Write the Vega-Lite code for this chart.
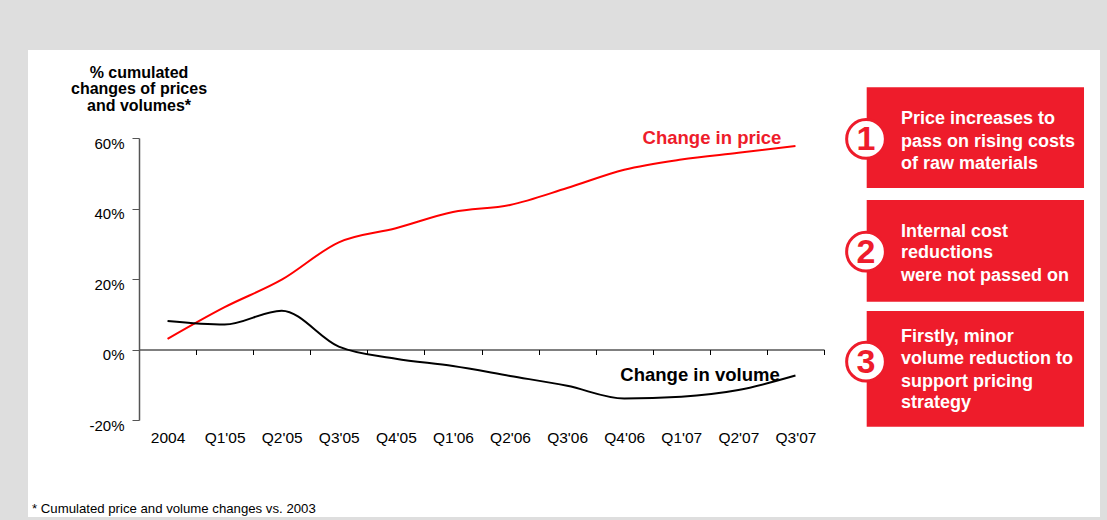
{
  "$schema": "https://vega.github.io/schema/vega-lite/v6.json",
  "autosize": {"type": "none"},
  "padding": {"left": 139, "top": 138, "right": 283, "bottom": 100},
  "width": 685,
  "height": 282,
  "background": "#dedede",
  "config": {"font": "Liberation Sans", "view": {"stroke": null}},
  "datasets": {
    "series": [
      {"q": "2004", "s": "price", "value": 3.0},
      {"q": "Q1'05", "s": "price", "value": 12.0},
      {"q": "Q2'05", "s": "price", "value": 19.8},
      {"q": "Q3'05", "s": "price", "value": 30.4},
      {"q": "Q4'05", "s": "price", "value": 34.4},
      {"q": "Q1'06", "s": "price", "value": 39.0},
      {"q": "Q2'06", "s": "price", "value": 41.0},
      {"q": "Q3'06", "s": "price", "value": 45.8},
      {"q": "Q4'06", "s": "price", "value": 51.0},
      {"q": "Q1'07", "s": "price", "value": 53.9},
      {"q": "Q2'07", "s": "price", "value": 55.8},
      {"q": "Q3'07", "s": "price", "value": 57.7},
      {"q": "2004", "s": "volume", "value": 8.1},
      {"q": "Q1'05", "s": "volume", "value": 7.1},
      {"q": "Q2'05", "s": "volume", "value": 11.0},
      {"q": "Q3'05", "s": "volume", "value": 0.8},
      {"q": "Q4'05", "s": "volume", "value": -2.6},
      {"q": "Q1'06", "s": "volume", "value": -4.7},
      {"q": "Q2'06", "s": "volume", "value": -7.5},
      {"q": "Q3'06", "s": "volume", "value": -10.3},
      {"q": "Q4'06", "s": "volume", "value": -13.9},
      {"q": "Q1'07", "s": "volume", "value": -13.4},
      {"q": "Q2'07", "s": "volume", "value": -11.5},
      {"q": "Q3'07", "s": "volume", "value": -7.4}
    ],
    "panel": [{"u": -1.9445, "u2": 16.835, "v": 84.96, "v2": -47.52}],
    "boxes": [
      {"n": "1", "u": 12.748, "u2": 16.555, "v": 74.38, "v2": 45.82, "cu": 12.736, "cv": 59.72},
      {"n": "2", "u": 12.748, "u2": 16.555, "v": 42.41, "v2": 13.56, "cu": 12.736, "cv": 27.74},
      {"n": "3", "u": 12.748, "u2": 16.555, "v": 10.92, "v2": -21.9, "cu": 12.736, "cv": -3.46}
    ],
    "boxtext": [
      {"t": "Price increases to", "u": 13.349, "v": 65.3},
      {"t": "pass on rising costs", "u": 13.349, "v": 58.95},
      {"t": "of raw materials", "u": 13.349, "v": 52.62},
      {"t": "Internal cost", "u": 13.349, "v": 33.42},
      {"t": "reductions", "u": 13.349, "v": 27.29},
      {"t": "were not passed on", "u": 13.349, "v": 20.85},
      {"t": "Firstly, minor", "u": 13.349, "v": 3.63},
      {"t": "volume reduction to", "u": 13.349, "v": -2.78},
      {"t": "support pricing", "u": 13.349, "v": -9.13},
      {"t": "strategy", "u": 13.349, "v": -15.26}
    ],
    "titles": [
      {"t": "% cumulated", "u": 0, "v": 78.44},
      {"t": "changes of prices", "u": 0, "v": 73.76},
      {"t": "and volumes*", "u": 0, "v": 69.08}
    ],
    "labels": [
      {"t": "Change in price", "u": 10.038, "v": 60.0, "c": "price"},
      {"t": "Change in volume", "u": 9.828, "v": -7.23, "c": "volume"}
    ],
    "foot": [{"t": "* Cumulated price and volume changes vs. 2003", "u": -1.874, "v": -45.25}]
  },
  "resolve": {"scale": {"x": "independent", "color": "independent"}},
  "layer": [
    {
      "data": {"name": "panel"},
      "mark": {"type": "rect", "fill": "#ffffff"},
      "encoding": {
        "x": {"field": "u", "type": "quantitative", "scale": {"domain": [0, 12], "nice": false, "zero": false}, "axis": null},
        "x2": {"field": "u2"},
        "y": {"field": "v", "type": "quantitative", "title": null},
        "y2": {"field": "v2"}
      }
    },
    {
      "data": {"name": "boxes"},
      "mark": {"type": "rect", "fill": "#ee1c2b"},
      "encoding": {
        "x": {"field": "u", "type": "quantitative", "scale": {"domain": [0, 12], "nice": false, "zero": false}, "axis": null},
        "x2": {"field": "u2"},
        "y": {"field": "v", "type": "quantitative", "title": null},
        "y2": {"field": "v2"}
      }
    },
    {
      "data": {"name": "boxes"},
      "mark": {"type": "point", "shape": "circle", "filled": false, "fill": "#ffffff", "fillOpacity": 1, "stroke": "#ee1c2b", "strokeWidth": 3, "size": 1500, "opacity": 1},
      "encoding": {
        "x": {"field": "cu", "type": "quantitative", "scale": {"domain": [0, 12], "nice": false, "zero": false}, "axis": null},
        "y": {"field": "cv", "type": "quantitative", "title": null}
      }
    },
    {
      "data": {"name": "boxes"},
      "mark": {"type": "text", "font": "Liberation Sans", "fontWeight": "bold", "fontSize": 34, "color": "#ee1c2b", "align": "center", "baseline": "middle", "dy": 1},
      "encoding": {
        "x": {"field": "cu", "type": "quantitative", "scale": {"domain": [0, 12], "nice": false, "zero": false}, "axis": null},
        "y": {"field": "cv", "type": "quantitative", "title": null},
        "text": {"field": "n"}
      }
    },
    {
      "data": {"name": "boxtext"},
      "mark": {"type": "text", "fontWeight": "bold", "fontSize": 18, "color": "#ffffff", "align": "left", "baseline": "middle"},
      "encoding": {
        "x": {"field": "u", "type": "quantitative", "scale": {"domain": [0, 12], "nice": false, "zero": false}, "axis": null},
        "y": {"field": "v", "type": "quantitative", "title": null},
        "text": {"field": "t"}
      }
    },
    {
      "data": {"name": "titles"},
      "mark": {"type": "text", "fontWeight": "bold", "fontSize": 16, "color": "#000000", "align": "center", "baseline": "middle"},
      "encoding": {
        "x": {"field": "u", "type": "quantitative", "scale": {"domain": [0, 12], "nice": false, "zero": false}, "axis": null},
        "y": {"field": "v", "type": "quantitative", "title": null},
        "text": {"field": "t"}
      }
    },
    {
      "data": {"name": "foot"},
      "mark": {"type": "text", "fontSize": 13.2, "color": "#000000", "align": "left", "baseline": "middle"},
      "encoding": {
        "x": {"field": "u", "type": "quantitative", "scale": {"domain": [0, 12], "nice": false, "zero": false}, "axis": null},
        "y": {"field": "v", "type": "quantitative", "title": null},
        "text": {"field": "t"}
      }
    },
    {
      "data": {"name": "labels"},
      "mark": {"type": "text", "fontWeight": "bold", "fontSize": 18.5, "align": "center", "baseline": "middle"},
      "encoding": {
        "x": {"field": "u", "type": "quantitative", "scale": {"domain": [0, 12], "nice": false, "zero": false}, "axis": null},
        "y": {"field": "v", "type": "quantitative", "title": null},
        "text": {"field": "t"},
        "color": {"field": "c", "type": "nominal", "scale": {"domain": ["price", "volume"], "range": ["#ee1c2b", "#000000"]}, "legend": null}
      }
    },
    {
      "data": {"name": "series"},
      "mark": {"type": "line", "interpolate": "monotone", "strokeWidth": 2},
      "encoding": {
        "x": {
          "field": "q", "type": "nominal", "sort": null, "bandPosition": 0.5,
          "scale": {"type": "band", "paddingInner": 0, "paddingOuter": 0, "domain": ["2004", "Q1'05", "Q2'05", "Q3'05", "Q4'05", "Q1'06", "Q2'06", "Q3'06", "Q4'06", "Q1'07", "Q2'07", "Q3'07"]},
          "axis": {"title": null, "orient": "bottom", "offset": -70.5, "tickBand": "extent", "tickSize": 5, "tickColor": "#000000", "domainColor": "#000000", "domainWidth": 1, "labelAngle": 0, "labelFont": "Liberation Sans", "labelFontSize": 15.5, "labelColor": "#000000", "labelPadding": 76, "labelBaseline": "top", "zindex": 1}
        },
        "y": {
          "field": "value", "type": "quantitative", "title": null,
          "scale": {"domain": [-20, 60], "nice": false, "zero": false},
          "axis": {"values": [-20, 0, 20, 40, 60], "labelExpr": "datum.value + '%'", "grid": false, "tickSize": 7, "tickColor": "#555555", "domainColor": "#555555", "domainWidth": 1.5, "labelFont": "Liberation Sans", "labelFontSize": 15, "labelColor": "#000000", "labelPadding": 8, "labelOffset": 5, "zindex": 1}
        },
        "color": {"field": "s", "type": "nominal", "scale": {"domain": ["price", "volume"], "range": ["#ff0000", "#000000"]}, "legend": null}
      }
    }
  ]
}
